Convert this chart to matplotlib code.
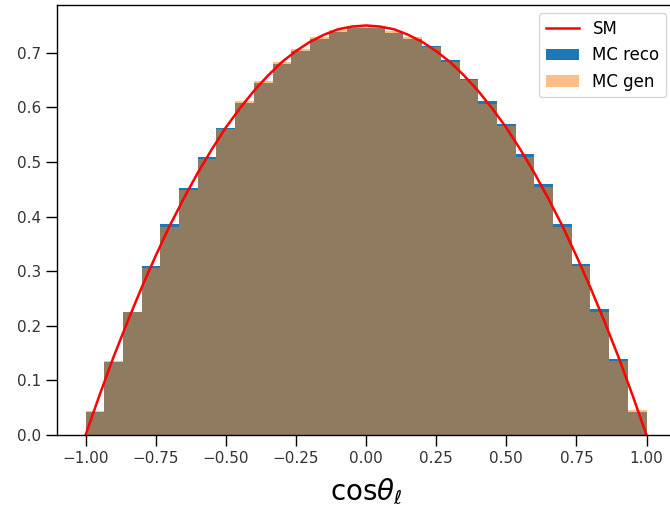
import numpy as np
import matplotlib
matplotlib.use("Agg")
import matplotlib.pyplot as plt

# bin edges of the cos(theta_l) histogram (30 bins on [-1, 1])
bin_edges = np.linspace(-1.0, 1.0, 31)

# normalised bin contents
mc_reco = [0.043, 0.134, 0.225, 0.310, 0.386, 0.453, 0.509, 0.562, 0.608, 0.645,
           0.679, 0.703, 0.725, 0.738, 0.745, 0.745, 0.737, 0.725, 0.712, 0.686,
           0.652, 0.612, 0.569, 0.514, 0.459, 0.386, 0.314, 0.231, 0.140, 0.043]
mc_gen = [0.044, 0.136, 0.225, 0.306, 0.381, 0.449, 0.505, 0.560, 0.612, 0.649,
          0.683, 0.707, 0.729, 0.741, 0.747, 0.747, 0.740, 0.729, 0.710, 0.684,
          0.650, 0.607, 0.565, 0.509, 0.454, 0.381, 0.309, 0.226, 0.135, 0.046]

# SM prediction sampled along the red curve
sm_x = [-1.00, -0.95, -0.90, -0.85, -0.80, -0.75, -0.70, -0.65, -0.60, -0.55, -0.50,
        -0.45, -0.40, -0.35, -0.30, -0.25, -0.20, -0.15, -0.10, -0.05, 0.00,
        0.05, 0.10, 0.15, 0.20, 0.25, 0.30, 0.35, 0.40, 0.45, 0.50,
        0.55, 0.60, 0.65, 0.70, 0.75, 0.80, 0.85, 0.90, 0.95, 1.00]
sm_y = [0.000, 0.073, 0.143, 0.208, 0.270, 0.328, 0.383, 0.433, 0.480, 0.523, 0.563,
        0.598, 0.630, 0.658, 0.683, 0.703, 0.720, 0.733, 0.743, 0.748, 0.750,
        0.748, 0.743, 0.733, 0.720, 0.703, 0.683, 0.658, 0.630, 0.598, 0.563,
        0.523, 0.480, 0.433, 0.383, 0.328, 0.270, 0.208, 0.143, 0.073, 0.000]

bin_centres = 0.5 * (bin_edges[:-1] + bin_edges[1:])

fig = plt.figure(figsize=(6.7, 5.14), dpi=100)
ax = fig.add_axes([0.0858, 0.1537, 0.921, 0.8366])

ax.plot(sm_x, sm_y, color="red", lw=1.8, label="SM")
ax.hist(bin_centres, bins=bin_edges, weights=mc_reco, color="#1f77b4", label="MC reco")
ax.hist(bin_centres, bins=bin_edges, weights=mc_gen, color="#ff7f0e", alpha=0.5, label="MC gen")

ax.set_xlim(-1.1, 1.1)
ax.set_ylim(0, 0.7875)
ax.set_xticks(np.arange(-1.0, 1.01, 0.25))
ax.set_yticks(np.arange(0, 0.71, 0.1))
ax.tick_params(labelsize=11, length=7.7, width=1.0, pad=4, labelcolor="#333333")
for s in ax.spines.values():
    s.set_linewidth(1.0)

ax.set_xlabel(r"cos$\theta_\ell$", fontsize=20, labelpad=8)
ax.legend(loc="upper right", fontsize=12)

fig.savefig("out.png", dpi=100)
